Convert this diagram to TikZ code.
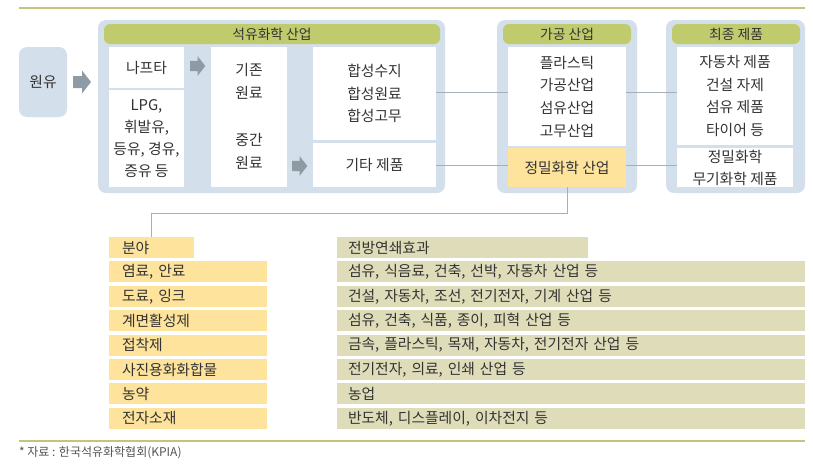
\documentclass[tikz,border=0pt]{standalone}
\usepackage{fontspec}
\setmainfont{Noto Sans CJK KR}
\usetikzlibrary{calc}
\definecolor{boxblue}{HTML}{D3DFEA}
\definecolor{hdrgreen}{HTML}{C0CB6E}
\definecolor{cellyellow}{HTML}{FDE39C}
\definecolor{tabolive}{HTML}{DFDDB9}
\definecolor{ruleolive}{HTML}{C3C57C}
\definecolor{arrowgray}{HTML}{8E9BA4}
\definecolor{linegray}{HTML}{A6AFB8}
\definecolor{txt}{HTML}{333333}
\definecolor{notegray}{HTML}{555555}
\begin{document}
\begin{tikzpicture}[x=1pt,y=-1pt,
  every node/.style={inner sep=0pt,outer sep=0pt,text=txt},
  outerbox/.style={fill=boxblue,rounded corners=8pt,minimum width=#1,minimum height=173pt},
  hdr/.style={fill=hdrgreen,rounded corners=6pt,minimum width=#1,minimum height=20pt,font=\fontsize{13.8}{15}\selectfont},
  cell/.style={fill=white,font=\fontsize{14.8}{22.7}\selectfont,align=center},
  ycell/.style={fill=cellyellow,font=\fontsize{14.8}{22.7}\selectfont,align=center},
  tcell/.style={fill=cellyellow,minimum height=21pt,font=\fontsize{14.8}{16}\selectfont,anchor=west,text width=#1,minimum width=#1,align=left},
  ocell/.style={fill=tabolive,minimum height=21pt,font=\fontsize{14.8}{16}\selectfont,anchor=west,text width=#1,minimum width=#1,align=left},
  conn/.style={draw=linegray,line width=0.8pt},
  rule/.style={draw=ruleolive,line width=2pt},
  barrow/.pic={\fill[arrowgray] (0,-6)--(9,-6)--(9,-11.5)--(18,0)--(9,11.5)--(9,6)--(0,6)--cycle;}
]
\useasboundingbox (0,0) rectangle (813,466);
\fill[white] (0,0) rectangle (813,466);
% rules
\coordinate (r1a) at (19,8); \coordinate (r1b) at (805,8);
\draw[rule] (r1a) -- (r1b);
\coordinate (r2a) at (19,441); \coordinate (r2b) at (805,441);
\draw[rule] (r2a) -- (r2b);
% crude oil
\node[fill=boxblue,rounded corners=8pt,minimum width=48pt,minimum height=70pt,font=\fontsize{14.8}{16}\selectfont] (crude) at (43,82) {원유};
\pic at (73,82) {barrow};
% petrochemical
\node[outerbox=347pt] (pc) at (271.5,106.5) {};
\node[hdr=336pt] (pch) at (272,34) {석유화학 산업};
\node[cell,minimum width=75pt,minimum height=41pt] (naph) at (146.5,67.5) {나프타};
\node[cell,minimum width=75pt,minimum height=97pt,font=\fontsize{14.8}{21.8}\selectfont] (lpg) at (146.5,138.5) {LPG,\\휘발유,\\등유, 경유,\\증유 등};
\pic[scale=0.85] at (190,66) {barrow};
\node[cell,minimum width=76pt,minimum height=140pt] (mid) at (249,117) {};
\node[font=\fontsize{14.8}{22.7}\selectfont,align=center] (basic) at (249,81.5) {기존\\원료};
\node[font=\fontsize{14.8}{22.7}\selectfont,align=center] (inter) at (249,151.5) {중간\\원료};
\pic[scale=0.85] at (292,166) {barrow};
\node[cell,minimum width=123pt,minimum height=93pt] (hap) at (374.5,93.5) {합성수지\\합성원료\\합성고무};
\node[cell,minimum width=123pt,minimum height=44pt] (gita) at (374.5,165) {기타 제품};
% processing
\node[outerbox=140pt] (proc) at (567,106.5) {};
\node[hdr=128pt] (proch) at (567,34) {가공 산업};
\node[cell,minimum width=118pt,minimum height=99pt] (gagong) at (567,96.5) {플라스틱\\가공산업\\섬유산업\\고무산업};
\node[ycell,minimum width=118pt,minimum height=39pt] (jm) at (567,167.5) {정밀화학 산업};
% final
\node[outerbox=139pt] (fin) at (735.5,106.5) {};
\node[hdr=128pt] (finh) at (736,34) {최종 제품};
\node[cell,minimum width=116pt,minimum height=98pt] (choi) at (735,96) {자동차 제품\\건설 자제\\섬유 제품\\타이어 등};
\node[cell,minimum width=116pt,minimum height=39pt,font=\fontsize{14.8}{22}\selectfont] (choi2) at (735,167.5) {정밀화학\\무기화학 제품};
% connectors
\draw[conn] ($(hap.east)+(0,-1.5)$) -- ($(hap.east -| gagong.west)+(0,-1.5)$);
\draw[conn] (gita.east) -- (gita.east -| jm.west);
\draw[conn] ($(hap.east -| gagong.east)+(0,-1.5)$) -- ($(hap.east -| choi.west)+(0,-1.5)$);
\draw[conn] (gita.east -| jm.east) -- (gita.east -| choi2.west);
% table
\def\ystep{24.4}
\foreach \i/\a/\b in {1/염료{,} 안료/섬유{,} 식음료{,} 건축{,} 선박{,} 자동차 산업 등,
  2/도료{,} 잉크/건설{,} 자동차{,} 조선{,} 전기전자{,} 기계 산업 등,
  3/계면활성제/섬유{,} 건축{,} 식품{,} 종이{,} 피혁 산업 등,
  4/접착제/금속{,} 플라스틱{,} 목재{,} 자동차{,} 전기전자 산업 등,
  5/사진용화화합물/전기전자{,} 의료{,} 인쇄 산업 등,
  6/농약/농업,
  7/전자소재/반도체{,} 디스플레이{,} 이차전지 등}{
  \node[tcell=158pt] (l\i) at (109,247.5+\i*\ystep) {\hspace*{13pt}\a};
  \node[ocell=468pt] (r\i) at (337,247.5+\i*\ystep) {\hspace*{11pt}\b};
}
\node[tcell=85pt] (bun) at (109,247.5) {\hspace*{13pt}분야};
\node[ocell=251pt] (jb) at (337,247.5) {\hspace*{11pt}전방연쇄효과};
\coordinate (turn) at (567,213.5);
\draw[conn] (jm.south) -- (turn) -| (bun.north);
% note
\node[anchor=west,text=notegray,font=\fontsize{12}{14}\selectfont] (note) at (19,453) {* 자료 : 한국석유화학협회(KPIA)};
\end{tikzpicture}
\end{document}
